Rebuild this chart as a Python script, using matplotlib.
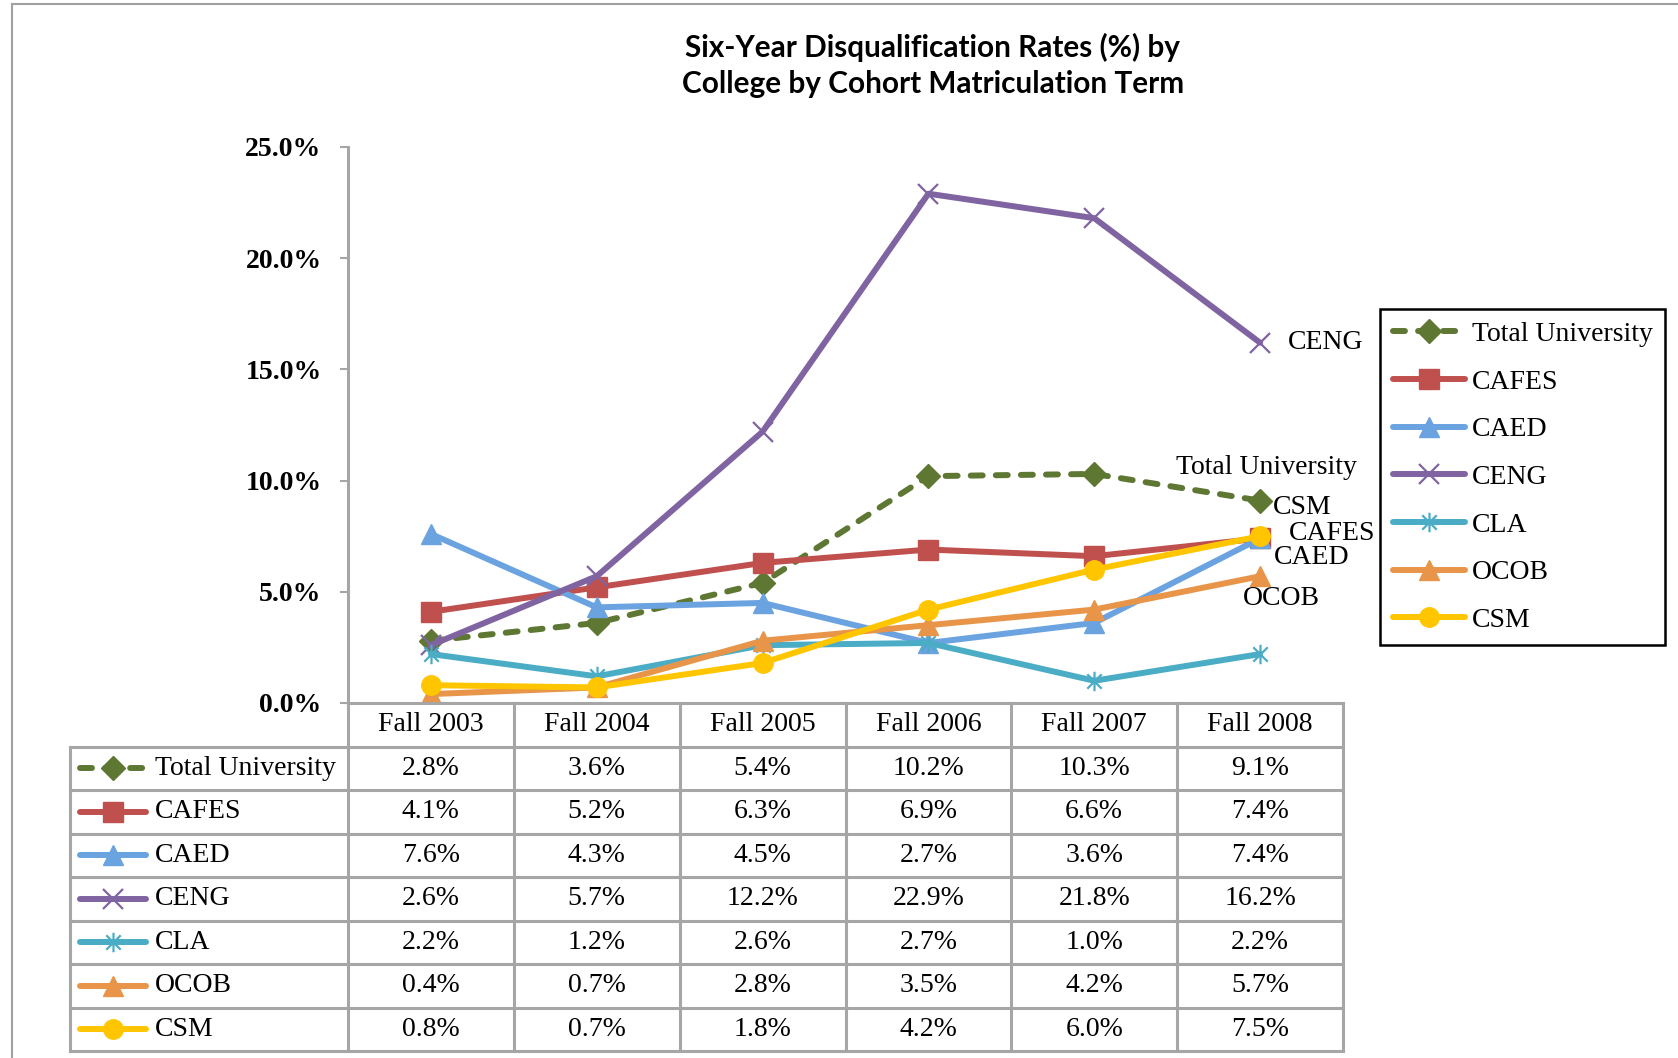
import numpy as np
import matplotlib.pyplot as plt
from matplotlib.path import Path
from matplotlib.lines import Line2D
from matplotlib.patches import Rectangle

# ---- data ----
terms = ["Fall 2003", "Fall 2004", "Fall 2005", "Fall 2006", "Fall 2007", "Fall 2008"]
colleges = ["Total University", "CAFES", "CAED", "CENG", "CLA", "OCOB", "CSM"]
total_university = [2.8, 3.6, 5.4, 10.2, 10.3, 9.1]
cafes = [4.1, 5.2, 6.3, 6.9, 6.6, 7.4]
caed = [7.6, 4.3, 4.5, 2.7, 3.6, 7.4]
ceng = [2.6, 5.7, 12.2, 22.9, 21.8, 16.2]
cla = [2.2, 1.2, 2.6, 2.7, 1.0, 2.2]
ocob = [0.4, 0.7, 2.8, 3.5, 4.2, 5.7]
csm = [0.8, 0.7, 1.8, 4.2, 6.0, 7.5]
values = [total_university, cafes, caed, ceng, cla, ocob, csm]

# ---- styles ----
asterisk = Path([(-1, -1), (1, 1), (-1, 1), (1, -1), (0, -1.35), (0, 1.35)],
                [Path.MOVETO, Path.LINETO] * 3)
styles = {
    "Total University": dict(color="#5E7834", marker="D", ms=12, ls=(0, (2.0, 2.2))),
    "CAFES": dict(color="#C0504D", marker="s", ms=14, ls="-"),
    "CAED": dict(color="#6AA3E0", marker="^", ms=14, ls="-"),
    "CENG": dict(color="#8064A2", marker="x", ms=14, ls="-"),
    "CLA": dict(color="#4BACC6", marker=asterisk, ms=14, ls="-"),
    "OCOB": dict(color="#E8954A", marker="^", ms=14, ls="-"),
    "CSM": dict(color="#FFC600", marker="o", ms=14, ls="-"),
}
# data label offsets (pixels) at the last point
end_labels = {
    "CENG": ("CENG", 28, 0, "left"),
    "Total University": ("Total University", 6, 33, "center"),
    "CSM": ("CSM", 13, 29, "left"),
    "CAFES": ("CAFES", 29, 5, "left"),
    "CAED": ("CAED", 14, -19, "left"),
    "OCOB": ("OCOB", 21, -22, "center"),
}

W, H = 1678, 1058
SERIF = "Liberation Serif"
GRID = "#A6A6A6"
LW = 4.3

fig = plt.figure(figsize=(W / 100, H / 100), dpi=100)
fig.patch.set_facecolor("white")
fig.add_artist(Rectangle((12 / W, -0.5), 2, 1.5 - 4 / H, transform=fig.transFigure,
                         fill=False, edgecolor="#A0A0A0", lw=1.5))

fig.text(933 / W, 1 - 47 / H, "Six-Year Disqualification Rates (%) by",
         ha="center", va="center", fontfamily="Lato", fontweight="bold", fontsize=21.4)
fig.text(933 / W, 1 - 84 / H, "College by Cohort Matriculation Term",
         ha="center", va="center", fontfamily="Lato", fontweight="bold", fontsize=21.4)

# ---- chart ----
ax = fig.add_axes([348 / W, 1 - 703 / H, 995 / W, 556 / H])
x = np.arange(len(terms))
lines = []
for name, vals in zip(colleges, values):
    st = styles[name]
    mew = 1.6 if name in ("CENG", "CLA") else 1
    ln, = ax.plot(x, vals, color=st["color"], lw=LW, ls=st["ls"], marker=st["marker"],
                  ms=st["ms"], mfc=st["color"], mec=st["color"], mew=mew,
                  solid_capstyle="round", dash_capstyle="round", label=name)
    lines.append(ln)

for name, vals in zip(colleges, values):
    if name in end_labels:
        txt, dx, dy, ha = end_labels[name]
        ax.annotate(txt, (x[-1], vals[-1]), xytext=(dx, dy), textcoords="offset pixels",
                    ha=ha, va="center", fontfamily=SERIF, fontsize=20)

ax.set_xlim(-0.5, len(terms) - 0.5)
ax.set_ylim(0, 25)
ax.set_xticks([])
ax.set_yticks(np.arange(0, 26, 5))
ax.set_yticklabels([f"{v:.1f}%" for v in np.arange(0, 26, 5)],
                   fontfamily=SERIF, fontweight="bold", fontsize=20)
ax.tick_params(axis="y", direction="out", length=6, width=1.5, color=GRID, pad=13)
for s in ("top", "right"):
    ax.spines[s].set_visible(False)
for s in ("left", "bottom"):
    ax.spines[s].set_color(GRID)
    ax.spines[s].set_linewidth(2.2)

# ---- data table ----
cw = 995 / len(terms)
label_w = 278 / cw
x0 = -0.5 - label_w
tab = fig.add_axes([70 / W, 1 - 1051 / H, (1343 - 70) / W, (1051 - 703) / H])
tab.set_xlim(x0, len(terms) - 0.5)
tab.set_ylim(len(colleges), -1)
tab.axis("off")

n = len(colleges)
for r in range(n + 1):
    tab.plot([x0, len(terms) - 0.5], [r, r], color=GRID, lw=2.2, clip_on=False)
for c in range(len(terms) + 1):
    tab.plot([c - 0.5, c - 0.5], [-1, n], color=GRID, lw=2.2, clip_on=False)
tab.plot([x0, x0], [0, n], color=GRID, lw=2.2, clip_on=False)

for c, t in enumerate(terms):
    tab.text(c, -0.5, t, ha="center", va="center", fontfamily=SERIF, fontsize=20)

for r, (name, vals) in enumerate(zip(colleges, values)):
    st = styles[name]
    mew = 1.6 if name in ("CENG", "CLA") else 1
    k0 = x0 + 10 / cw
    k1 = x0 + 76 / cw
    tab.add_line(Line2D([k0, (k0 + k1) / 2, k1], [r + 0.5] * 3, color=st["color"], lw=LW,
                        ls=st["ls"], marker=st["marker"], markevery=[1], ms=st["ms"],
                        mfc=st["color"], mec=st["color"], mew=mew,
                        solid_capstyle="round", dash_capstyle="round"))
    tab.text(x0 + 85 / cw, r + 0.5, name, ha="left", va="center",
             fontfamily=SERIF, fontsize=20)
    for c, v in enumerate(vals):
        tab.text(c, r + 0.5, f"{v:.1f}%", ha="center", va="center",
                 fontfamily=SERIF, fontsize=20)

# ---- legend ----
leg = fig.legend(lines, colleges, loc="upper left", bbox_to_anchor=(1380 / W, 1 - 309 / H),
                 borderaxespad=0, frameon=True, fancybox=False, framealpha=1,
                 edgecolor="black", prop=dict(family=SERIF, size=20),
                 handlelength=2.6, handletextpad=0.25, labelspacing=0.8, borderpad=0.45)
leg.get_frame().set_linewidth(1.8)

fig.savefig("out.png", dpi=100)
